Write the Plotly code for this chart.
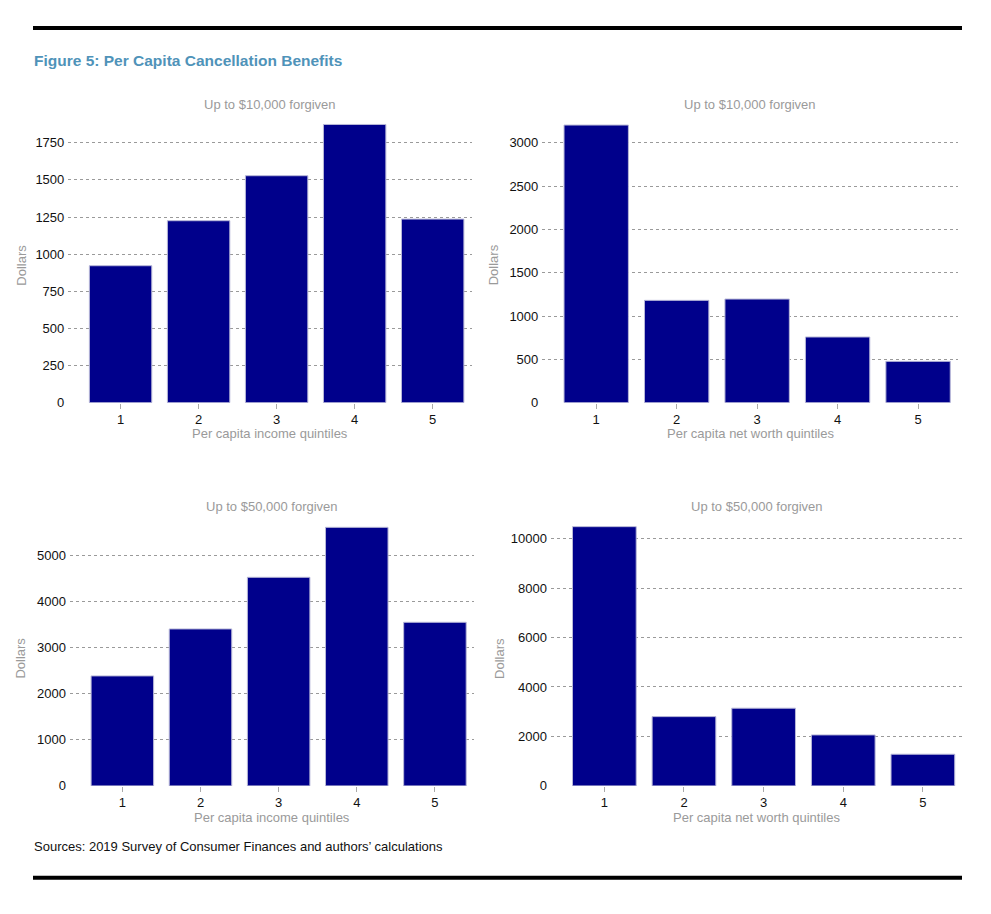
import plotly.graph_objects as go

# figure size chosen so the page (with the browser's 8px body margin) fits the window
W, H = 975, 898
OFF = 8          # body margin offset in the browser
VSCALE = 922 / 914  # vertical capture scaling observed in the screenshot

quintiles = [1, 2, 3, 4, 5]
income_10k = [922, 1225, 1528, 1873, 1236]
networth_10k = [3204, 1181, 1196, 758, 477]
income_50k = [2388, 3408, 4530, 5615, 3553]
networth_50k = [10485, 2802, 3142, 2062, 1281]

subtitles = ["Up to $10,000 forgiven", "Up to $10,000 forgiven",
             "Up to $50,000 forgiven", "Up to $50,000 forgiven"]
xtitles = ["Per capita income quintiles", "Per capita net worth quintiles",
           "Per capita income quintiles", "Per capita net worth quintiles"]
ytick_vals = [
    [0, 250, 500, 750, 1000, 1250, 1500, 1750],
    [0, 500, 1000, 1500, 2000, 2500, 3000],
    [0, 1000, 2000, 3000, 4000, 5000],
    [0, 2000, 4000, 6000, 8000, 10000],
]
series = [income_10k, networth_10k, income_50k, networth_50k]


def px_x(x):
    return (x - OFF) / W


def px_y(y):
    return 1 - (y * VSCALE - OFF) / H


# layout in window pixels: (x_left, x_right, y_zero_px, px_per_unit, y_top_value)
panels = [
    (68.3, 471.7, 402.7, 260 / 1750, 1885),
    (542.3, 958.3, 402.7, 260 / 3000, 3230),
    (70.0, 474.0, 786.0, 230.3 / 5000, 5650),
    (551.0, 962.7, 786.0, 247.3 / 10000, 10560),
]
ytitle_x = [20.7, 493.3, 20.7, 500.0]
ytitle_y = [265, 265, 658, 658]
subtitle_y = [104.3, 104.3, 506.7, 506.7]
xtitle_y = [434.0, 434.0, 817.3, 817.3]

NAVY = "#00008B"
GRAY = "#9a9a9a"
TICKFONT = dict(family="Arial, Liberation Sans, sans-serif", size=13, color="#111111")

fig = go.Figure()
layout = dict(
    width=W, height=H, margin=dict(l=0, r=0, t=0, b=0),
    paper_bgcolor="white", plot_bgcolor="white", showlegend=False,
    font=dict(family="Arial, Liberation Sans, sans-serif"),
    annotations=[], shapes=[],
)

for i, (vals, (xl, xr, y0, sc, ytop)) in enumerate(zip(series, panels)):
    n = i + 1
    xa = "x" if n == 1 else f"x{n}"
    ya = "y" if n == 1 else f"y{n}"
    fig.add_trace(go.Bar(
        x=quintiles, y=vals, width=0.8, xaxis=xa, yaxis=ya,
        marker=dict(color=NAVY, line=dict(color="#b8b8d8", width=1)),
        hoverinfo="x+y",
    ))
    ytop_px = y0 - ytop * sc
    layout["xaxis" if n == 1 else f"xaxis{n}"] = dict(
        domain=[px_x(xl), px_x(xr)], anchor=ya, range=[0.33, 5.5],
        tickvals=quintiles, ticks="outside", ticklen=5, tickcolor="#aaaaaa",
        showgrid=False, zeroline=False, showline=False, tickfont=TICKFONT,
    )
    layout["yaxis" if n == 1 else f"yaxis{n}"] = dict(
        domain=[px_y(y0), px_y(ytop_px)], anchor=xa, range=[0, ytop],
        tickvals=ytick_vals[i], tickformat="d", showgrid=True, gridcolor="#9a9a9a",
        griddash="dot", gridwidth=1, zeroline=False, showline=False, ticks="",
        tickfont=TICKFONT, ticklabelstandoff=3,
    )
    xc = px_x((xl + xr) / 2)
    layout["annotations"] += [
        dict(text=subtitles[i], x=xc, y=px_y(subtitle_y[i]), xref="paper", yref="paper",
             showarrow=False, xanchor="center", yanchor="middle",
             font=dict(size=13, color=GRAY)),
        dict(text=xtitles[i], x=xc, y=px_y(xtitle_y[i]), xref="paper", yref="paper",
             showarrow=False, xanchor="center", yanchor="middle",
             font=dict(size=13, color=GRAY)),
        dict(text="Dollars", x=px_x(ytitle_x[i]), y=px_y(ytitle_y[i]),
             xref="paper", yref="paper", showarrow=False, textangle=-90,
             xanchor="center", yanchor="middle", font=dict(size=13, color=GRAY)),
    ]

layout["annotations"] += [
    dict(text="<b>Figure 5: Per Capita Cancellation Benefits</b>", x=px_x(31.5), y=px_y(60),
         xref="paper", yref="paper", showarrow=False, xanchor="left", yanchor="middle",
         font=dict(size=15.5, color="#4f93b9")),
    dict(text="Sources: 2019 Survey of Consumer Finances and authors\u2019 calculations",
         x=px_x(31.5), y=px_y(846.7), xref="paper", yref="paper", showarrow=False,
         xanchor="left", yanchor="middle", font=dict(size=13, color="#111111")),
]
for yy in (28, 878):
    layout["shapes"].append(dict(type="line", xref="paper", yref="paper",
                                 x0=px_x(33), x1=px_x(962), y0=px_y(yy), y1=px_y(yy),
                                 line=dict(color="black", width=4)))

fig.update_layout(**layout)
fig.write_html("out.html")
